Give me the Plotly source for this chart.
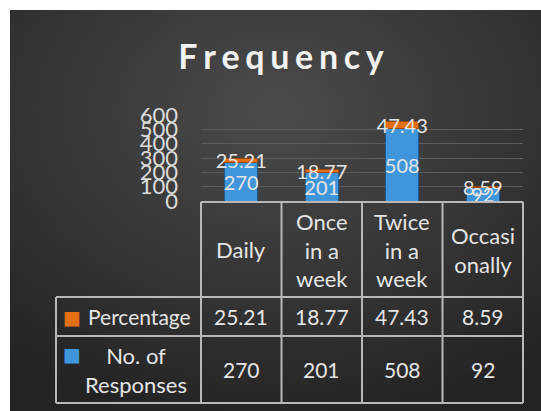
import base64
import plotly.graph_objects as go

W, H = 541, 411

categories = ["Daily", "Once in a week", "Twice in a week", "Occasionally"]
header_labels = ["Daily", "Once<br>in a<br>week", "Twice<br>in a<br>week", "Occasi<br>onally"]
responses = [270, 201, 508, 92]
percentage = [25.21, 18.77, 47.43, 8.59]
series_names = ["Percentage", "No. of<br>Responses"]
y_ticks = [0, 100, 200, 300, 400, 500, 600]

FONT = "Lato"
TXT = "#e6e6e6"
BLUE = "#4096dc"
ORANGE = "#e46f12"
LINE = "#b8b8b8"

# background gradient panel (decorative)
svg = (
    "<svg xmlns='http://www.w3.org/2000/svg' width='531' height='401' viewBox='0 0 531 401' preserveAspectRatio='none'>"
    "<defs><radialGradient id='g' cx='50%' cy='25%' r='80%'>"
    "<stop offset='0' stop-color='#4b4b4b'/><stop offset='1' stop-color='#232323'/>"
    "</radialGradient></defs><rect width='531' height='401' fill='url(#g)'/></svg>"
)
bg_src = "data:image/svg+xml;base64," + base64.b64encode(svg.encode()).decode()

# layout geometry (pixels)
plot_left, plot_right = 201, 523
plot_top, plot_bottom = 115, 201
table_left = 56
row_edges = [202, 297, 336, 403]  # header top, header bottom, row1 bottom, row2 bottom


def px(x):
    return x / W


def py(y):
    return 1 - y / H


fig = go.Figure()

fig.add_trace(go.Bar(
    x=categories, y=responses, name="No. of Responses",
    marker=dict(color=BLUE, line=dict(color="#1d5c92", width=1)),
    text=[str(v) for v in responses], textposition="inside", textangle=0,
    insidetextanchor="middle", constraintext="none",
    textfont=dict(family=FONT, size=20, color=TXT),
    width=0.41, showlegend=False,
))
fig.add_trace(go.Bar(
    x=categories, y=percentage, name="Percentage",
    marker=dict(color=ORANGE, line=dict(color="#9c4a08", width=1)),
    text=[f"{v:.2f}" for v in percentage], textposition="inside", textangle=0,
    insidetextanchor="middle", constraintext="none",
    textfont=dict(family=FONT, size=20, color=TXT),
    width=0.41, showlegend=False,
))

# ---- data table (lines + text) ----
n = len(categories)
col_px = (plot_right - plot_left) / n
col_edges = [plot_left + i * col_px for i in range(n + 1)]
shapes = []
line_style = dict(color=LINE, width=2)
shapes.append(dict(type="line", xref="paper", yref="paper", x0=px(plot_left), x1=px(plot_right),
                   y0=py(row_edges[0]), y1=py(row_edges[0]), line=line_style))
for ye in row_edges[1:]:
    shapes.append(dict(type="line", xref="paper", yref="paper", x0=px(table_left), x1=px(plot_right),
                       y0=py(ye), y1=py(ye), line=line_style))
shapes.append(dict(type="line", xref="paper", yref="paper", x0=px(table_left), x1=px(table_left),
                   y0=py(row_edges[1]), y1=py(row_edges[3]), line=line_style))
for xe in col_edges:
    shapes.append(dict(type="line", xref="paper", yref="paper", x0=px(xe), x1=px(xe),
                       y0=py(row_edges[0]), y1=py(row_edges[3]), line=line_style))

annotations = []
tfont = dict(family=FONT, size=21, color=TXT)
hfont = dict(family=FONT, size=22, color=TXT)
common = dict(xref="paper", yref="paper", showarrow=False, xanchor="center", yanchor="middle")
for i in range(n):
    cx = px((col_edges[i] + col_edges[i + 1]) / 2)
    annotations.append(dict(x=cx, y=py((row_edges[0] + row_edges[1]) / 2),
                            text=header_labels[i], font=hfont, align="center", **common))
    annotations.append(dict(x=cx, y=py((row_edges[1] + row_edges[2]) / 2),
                            text=f"{percentage[i]:.2f}", font=tfont, **common))
    annotations.append(dict(x=cx, y=py((row_edges[2] + row_edges[3]) / 2),
                            text=str(responses[i]), font=tfont, **common))
annotations.append(dict(x=px(139), y=py((row_edges[1] + row_edges[2]) / 2),
                        text=series_names[0], font=tfont, **common))
annotations.append(dict(x=px(136), y=py((row_edges[2] + row_edges[3]) / 2),
                        text=series_names[1], font=hfont, align="center", **common))
for col, ypx in [(ORANGE, 317), (BLUE, 354)]:
    annotations.append(dict(x=px(72), y=py(ypx), text="■",
                            font=dict(size=19, color=col, family="DejaVu Sans"), **common))

fig.update_layout(
    width=W, height=H, autosize=False,
    margin=dict(l=0, r=0, t=0, b=0, pad=0, autoexpand=False),
    paper_bgcolor="white", plot_bgcolor="rgba(0,0,0,0)",
    barmode="stack", bargap=0.59,
    showlegend=False,
    title=dict(
        text="<b>" + "\u2006".join("Frequency") + "</b>",
        x=px(281), xanchor="center", y=py(57), yanchor="middle",
        font=dict(family=FONT, size=34, color="#f2f2f2"),
    ),
    xaxis=dict(domain=[px(plot_left), px(plot_right)], showticklabels=False, automargin=False,
               showgrid=False, zeroline=False, showline=False, ticks=""),
    yaxis=dict(domain=[py(plot_bottom), py(plot_top)], range=[0, 600], automargin=False,
               tickmode="array", tickvals=y_ticks,
               tickfont=dict(family=FONT, size=22, color="#dcdcdc"),
               showgrid=True, gridcolor="#5c5c5c", gridwidth=1,
               zeroline=False, showline=False, ticklabelstandoff=22),
    shapes=shapes,
    annotations=annotations,
    images=[dict(source=bg_src, xref="paper", yref="paper", x=px(10), y=py(10),
                 sizex=531 / W, sizey=401 / H, sizing="stretch", layer="below",
                 xanchor="left", yanchor="top")],
)

fig.write_html("out.html", config={"displayModeBar": False},
               post_script="document.body.style.margin='0px';")
